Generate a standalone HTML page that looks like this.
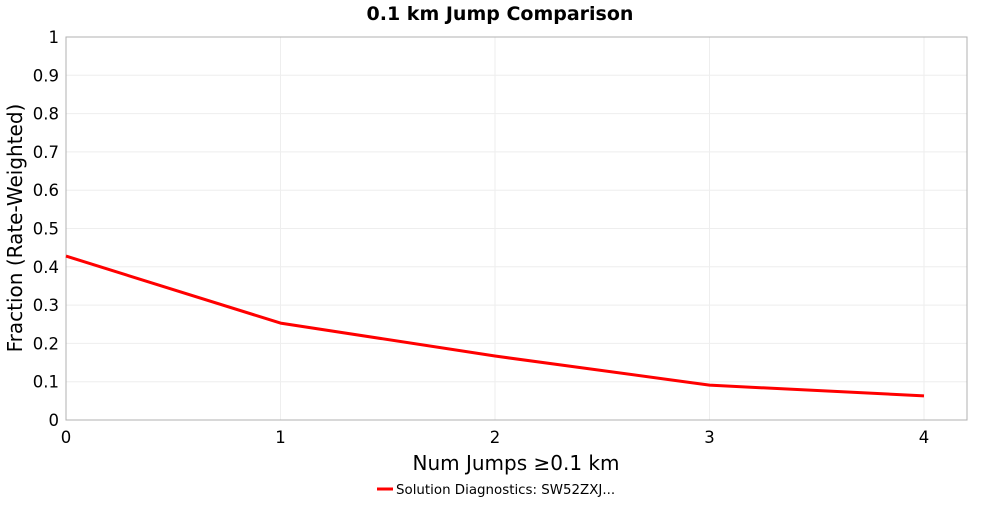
<!DOCTYPE html>
<html><head><meta charset="utf-8"><style>
body{margin:0;background:#fff;}
svg text{font-family:"DejaVu Sans","Liberation Sans",sans-serif;}
</style></head><body>
<svg id="chart" width="1000" height="500" xmlns="http://www.w3.org/2000/svg">
<rect width="1000" height="500" fill="#fff"/>
<text x="500" y="20" text-anchor="middle" font-size="19" font-weight="bold">0.1 km Jump Comparison</text>
<g id="grid"></g>
<rect x="66" y="37" width="901" height="383" fill="none" stroke="#b0b0b0"/>
<g id="ticks"></g>
<g id="series"></g>
<text x="516" y="470" text-anchor="middle" font-size="20">Num Jumps ≥0.1 km</text>
<text transform="translate(22,228) rotate(-90)" text-anchor="middle" font-size="20">Fraction (Rate-Weighted)</text>
<g>
<line x1="377" y1="489" x2="393" y2="489" stroke="#ff0000" stroke-width="3"/>
<text x="396" y="494" font-size="13.4">Solution Diagnostics: SW52ZXJ...</text>
</g>
</svg>
<script>
const categories=[0,1,2,3,4];
const values=[0.428,0.253,0.167,0.091,0.063];
const yTicks=[0,0.1,0.2,0.3,0.4,0.5,0.6,0.7,0.8,0.9,1];
const xTicks=[0,1,2,3,4];
const NS="http://www.w3.org/2000/svg";
const X=v=>66+v*214.5, Y=v=>420-v*383;
const grid=document.getElementById('grid'),ticks=document.getElementById('ticks'),series=document.getElementById('series');
function mk(tag,attrs,parent){const e=document.createElementNS(NS,tag);for(const k in attrs)e.setAttribute(k,attrs[k]);parent.appendChild(e);return e;}
yTicks.forEach(t=>{
 const l=mk('line',{x1:66,x2:967,y1:Y(t),y2:Y(t),stroke:'#eeeeee'},grid);
 
 
 const tx=mk('text',{x:59,y:Y(t)+6,'text-anchor':'end','font-size':16.5},ticks);
 tx.textContent=String(t);
 
 
});
xTicks.forEach(t=>{
 const l=mk('line',{x1:X(t),x2:X(t),y1:37,y2:420,stroke:'#eeeeee'},grid);
 
 
 const tx=mk('text',{x:X(t),y:443,'text-anchor':'middle','font-size':16.5},ticks);
 tx.textContent=String(t);
 
 
});
const pts=categories.map((c,i)=>X(c)+','+Y(values[i])).join(' ');
const pl=mk('polyline',{points:pts,fill:'none',stroke:'#ff0000','stroke-width':3,'stroke-linejoin':'round'},series);


</script>
</body></html>
